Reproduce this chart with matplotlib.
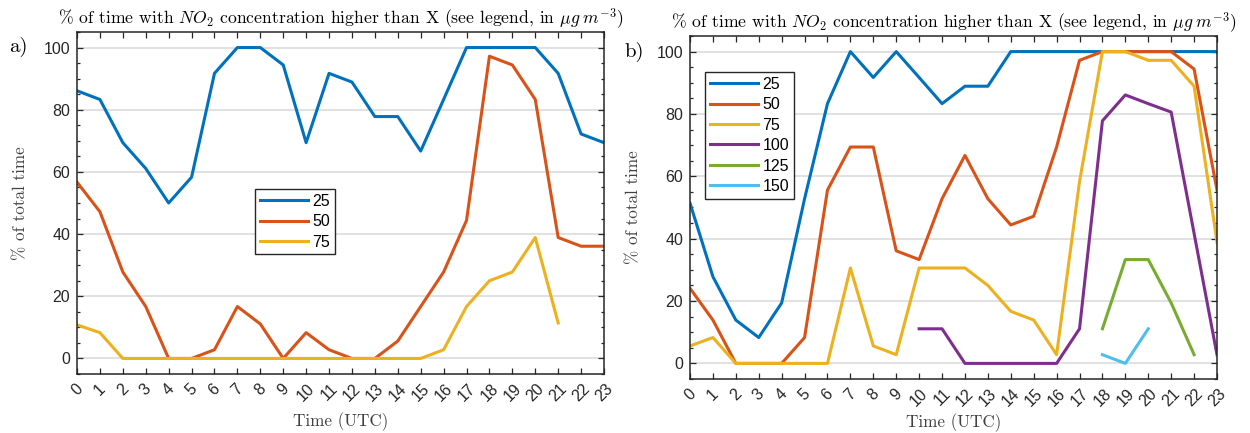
import numpy as np
import matplotlib
matplotlib.use("Agg")
import matplotlib.pyplot as plt
from matplotlib.ticker import MultipleLocator

nan = np.nan
hours = list(range(24))
hour_labels = [str(h) for h in hours]

# Panel a)
a_25 = [86.1, 83.3, 69.4, 61.1, 50.0, 58.3, 91.7, 100, 100, 94.4, 69.4, 91.7,
        88.9, 77.8, 77.8, 66.7, 83.3, 100, 100, 100, 100, 91.7, 72.2, 69.4]
a_50 = [56.7, 47.2, 27.8, 16.7, 0, 0, 2.8, 16.7, 11.1, 0, 8.3, 2.8,
        0, 0, 5.6, 16.7, 27.8, 44.4, 97.2, 94.4, 83.3, 38.9, 36.1, 36.1]
a_75 = [10.8, 8.3, 0, 0, 0, 0, 0, 0, 0, 0, 0, 0,
        0, 0, 0, 0, 2.8, 16.7, 25.0, 27.8, 38.9, 11.4, nan, nan]

# Panel b)
b_25 = [51.4, 27.8, 13.9, 8.3, 19.4, 52.8, 83.3, 100, 91.7, 100, 91.7, 83.3,
        88.9, 88.9, 100, 100, 100, 100, 100, 100, 100, 100, 100, 100]
b_50 = [24.1, 13.9, 0, 0, 0, 8.3, 55.6, 69.4, 69.4, 36.1, 33.3, 52.8,
        66.7, 52.8, 44.4, 47.2, 69.4, 97.2, 100, 100, 100, 100, 94.4, 55.6]
b_75 = [5.6, 8.3, 0, 0, 0, 0, 0, 30.6, 5.6, 2.8, 30.6, 30.6,
        30.6, 25.0, 16.7, 13.9, 2.8, 58.3, 100, 100, 97.2, 97.2, 88.9, 38.9]
b_100 = [nan, nan, nan, nan, nan, nan, nan, nan, nan, nan, 11.1, 11.1,
         0, 0, 0, 0, 0, 11.1, 77.8, 86.1, 83.3, 80.6, 41.7, 2.8]
b_125 = [nan] * 18 + [11.1, 33.3, 33.3, 19.4, 2.8, nan]
b_150 = [nan] * 18 + [2.8, 0, 11.1, nan, nan, nan]

labels_a = ["25", "50", "75"]
labels_b = ["25", "50", "75", "100", "125", "150"]
colors = ["#0072BD", "#D95319", "#EDB120", "#7E2F8E", "#77AC30", "#4DBEEE"]

title = r"% of time with $NO_2$ concentration higher than X (see legend, in $\mu g\;m^{-3}$)"

plt.rcParams["mathtext.fontset"] = "cm"
plt.rcParams["axes.unicode_minus"] = False
sans = "Liberation Sans"
serif = "cmr10"
dark = "#262626"

fig = plt.figure(figsize=(12.5, 4.33), dpi=100)
W, H = 1250, 433

def make_axes(l, r, t, b):
    return fig.add_axes([l / W, 1 - b / H, (r - l) / W, (b - t) / H])

ax1 = make_axes(77, 604, 32, 374)
ax2 = make_axes(690, 1217, 36, 379)

def style(ax, ylab_x, xpad):
    ax.set_xlim(0, 23)
    ax.set_ylim(-5, 105)
    ax.set_xticks(hours)
    ax.set_xticklabels(hour_labels, rotation=45, ha="center", va="top",
                       fontfamily=sans, fontsize=11.5, color=dark)
    ax.set_yticks([0, 20, 40, 60, 80, 100])
    ax.yaxis.set_minor_locator(MultipleLocator(5))
    for lab in ax.get_yticklabels():
        lab.set_fontfamily(sans)
        lab.set_fontsize(11.5)
        lab.set_color(dark)
    ax.tick_params(axis="both", which="both", direction="in", top=True, right=True,
                   color=dark, width=0.9)
    ax.tick_params(axis="both", which="major", length=4)
    ax.tick_params(axis="y", which="minor", length=2.5)
    ax.tick_params(axis="x", which="major", pad=5)
    ax.tick_params(axis="y", which="major", pad=5)
    ax.grid(True, axis="y", which="major", color="#dcdcdc", linewidth=1.2)
    ax.set_axisbelow(True)
    for s in ax.spines.values():
        s.set_color(dark)
        s.set_linewidth(1.1)
    ax.set_title(title, fontfamily=serif, fontsize=12.7, pad=5, color="black")
    ax.set_xlabel("Time (UTC)", fontfamily=serif, fontsize=12.3, color="#404040", labelpad=xpad)
    ax.set_ylabel("% of total time", fontfamily=serif, fontsize=12.3, color="#404040")
    ax.yaxis.set_label_coords(ylab_x, 0.5)

series_a = [a_25, a_50, a_75]
series_b = [b_25, b_50, b_75, b_100, b_125, b_150]

for vals, lab, c in zip(series_a, labels_a, colors):
    ax1.plot(hours, vals, color=c, linewidth=2.2, label=lab)
for vals, lab, c in zip(series_b, labels_b, colors):
    ax2.plot(hours, vals, color=c, linewidth=2.2, label=lab)

style(ax1, (28 - 77) / 527, 6)
style(ax2, (641 - 690) / 527, 3)

def legend(ax, x, y, l, r, t, b):
    fx = (x - l) / (r - l)
    fy = (b - y) / (b - t)
    leg = ax.legend(loc="upper left", bbox_to_anchor=(fx, fy), borderaxespad=0,
                    frameon=True, fancybox=False, framealpha=1, edgecolor=dark,
                    prop={"family": sans, "size": 11.5}, handlelength=3.0,
                    handletextpad=0.3, labelspacing=0.34, borderpad=0.3)
    leg.get_frame().set_linewidth(1.0)
    return leg

legend(ax1, 255, 189, 77, 604, 32, 374)
legend(ax2, 705, 72, 690, 1217, 36, 379)

fig.text(18 / W, 1 - 47 / H, "a)", fontfamily=serif, fontsize=15, ha="center", va="center")
fig.text(634 / W, 1 - 52 / H, "b)", fontfamily=serif, fontsize=15, ha="center", va="center")

fig.savefig("out.png", dpi=100)
